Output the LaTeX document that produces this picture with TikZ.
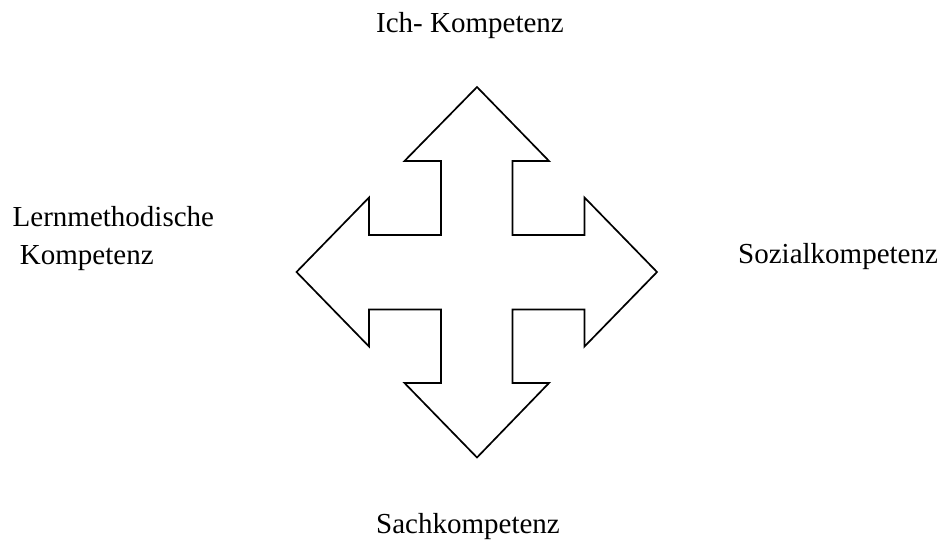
\documentclass[tikz,border=0pt]{standalone}
\usepackage{fontspec}
\setmainfont{Liberation Serif}
\usepackage{tikz}

\begin{document}
\begin{tikzpicture}[x=1pt,y=-1pt,
  label/.style={anchor=base west,inner sep=0pt,align=left,font=\fontsize{29}{37.4}\selectfont},
  cross/.style={draw=black,line width=1.7pt,line join=miter}]
\useasboundingbox (0,0) rectangle (941,542);

%four way arrow in the middle
\draw [cross] (477,87) -- (549,161) -- (512.5,161) -- (512.5,235)
  -- (584.5,235) -- (584.5,197.5) -- (657,272) -- (584.5,346.5) -- (584.5,309.5)
  -- (512.5,309.5) -- (512.5,383) -- (549,383) -- (477,457.5) -- (404.5,383)
  -- (441,383) -- (441,309.5) -- (369,309.5) -- (369,346.5) -- (296.5,272)
  -- (369,197.5) -- (369,235) -- (441,235) -- (441,161) -- (404.5,161) -- cycle;

%labels round the arrow
\node [label] at (376,32) (ich) {Ich- Kompetenz};
\node [label] at (738,263.5) (sozial) {Sozialkompetenz};
\node [label] at (376,533) (sach) {Sachkompetenz};
\node [label] at (12.5,264.3) (lern) {Lernmethodische\\\hspace*{0.25em}Kompetenz};

\end{tikzpicture}
\end{document}
